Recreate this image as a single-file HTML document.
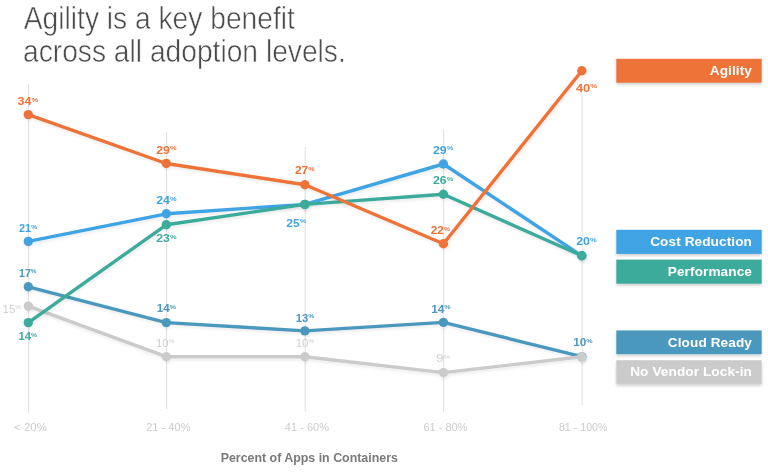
<!DOCTYPE html>
<html><head><meta charset="utf-8"><title>Agility is a key benefit</title>
<style>
html,body{margin:0;padding:0;background:#fff;}
body{width:768px;height:472px;overflow:hidden;position:relative;font-family:"Liberation Sans",sans-serif;}
svg{position:absolute;left:0;top:0;}
.title{font-family:"Liberation Sans",sans-serif;font-size:28.2px;fill:#4b4b4b;stroke:#fff;stroke-width:0.5px;stroke-linejoin:round;}
.lbl{font-family:"Liberation Sans",sans-serif;font-weight:bold;font-size:10.1px;}
.lbl .p{font-size:6.1px;}
.glbl{font-family:"Liberation Sans",sans-serif;font-size:10px;fill:#cfcfcf}
.glbl .p{font-size:5.6px;}
.ax{font-family:"Liberation Sans",sans-serif;font-size:10.1px;fill:#cccccc;}
.axt{font-family:"Liberation Sans",sans-serif;font-size:12.4px;font-weight:bold;fill:#7a7a7a;}
.leg{font-family:"Liberation Sans",sans-serif;font-size:13.6px;font-weight:bold;fill:#fff;letter-spacing:0.1px;}
</style></head><body>
<svg width="768" height="472" viewBox="0 0 768 472">
<defs>
<filter id="sh" x="-5%" y="-20%" width="110%" height="150%"><feGaussianBlur in="SourceAlpha" stdDeviation="1.8"/><feOffset dx="0" dy="2"/><feComponentTransfer><feFuncA type="linear" slope="0.18"/></feComponentTransfer><feMerge><feMergeNode/><feMergeNode in="SourceGraphic"/></feMerge></filter>
<filter id="lsh" x="-5%" y="-15%" width="110%" height="130%"><feGaussianBlur in="SourceAlpha" stdDeviation="1.5"/><feOffset dx="0.5" dy="2"/><feComponentTransfer><feFuncA type="linear" slope="0.08"/></feComponentTransfer><feMerge><feMergeNode/><feMergeNode in="SourceGraphic"/></feMerge></filter>
</defs>
<text class="title" transform="translate(23.8,28.7) scale(1,1.09)">Agility is a key benefit</text>
<text class="title" transform="translate(23.0,62.2) scale(1,1.09)">across all adoption levels.</text>

<line x1="28.6" y1="83.8" x2="28.6" y2="413.5" stroke="#dedede" stroke-width="1"/>
<line x1="166.6" y1="131.5" x2="166.6" y2="409" stroke="#dedede" stroke-width="1"/>
<line x1="305.2" y1="147" x2="305.2" y2="411.5" stroke="#dedede" stroke-width="1"/>
<line x1="443.7" y1="129.5" x2="443.7" y2="412" stroke="#dedede" stroke-width="1"/>
<line x1="582.1" y1="93" x2="582.1" y2="405" stroke="#dedede" stroke-width="1"/>
<g filter="url(#lsh)"><polyline points="28.3,286.8 166.3,322.6 304.9,330.9 443.4,322.4 581.8,356.6" fill="none" stroke="#4c98be" stroke-width="3.4" stroke-linejoin="round" stroke-linecap="round"/>
<circle cx="28.3" cy="286.8" r="4.7" fill="#4c98be"/>
<circle cx="166.3" cy="322.6" r="4.7" fill="#4c98be"/>
<circle cx="304.9" cy="330.9" r="4.7" fill="#4c98be"/>
<circle cx="443.4" cy="322.4" r="4.7" fill="#4c98be"/>
<circle cx="581.8" cy="356.6" r="4.7" fill="#4c98be"/>
</g>
<g filter="url(#lsh)"><polyline points="28.3,306.1 166.3,356.7 304.9,356.7 443.4,372.6 581.8,356.7" fill="none" stroke="#cbcbcb" stroke-width="3.4" stroke-linejoin="round" stroke-linecap="round"/>
<circle cx="28.3" cy="306.1" r="4.7" fill="#cbcbcb"/>
<circle cx="166.3" cy="356.7" r="4.7" fill="#cbcbcb"/>
<circle cx="304.9" cy="356.7" r="4.7" fill="#cbcbcb"/>
<circle cx="443.4" cy="372.6" r="4.7" fill="#cbcbcb"/>
<circle cx="581.8" cy="356.7" r="4.7" fill="#cbcbcb"/>
</g>
<g filter="url(#lsh)"><polyline points="28.3,241.4 166.3,213.8 304.9,204.4 443.4,164.0 581.8,255.8" fill="none" stroke="#3fa4e4" stroke-width="3.4" stroke-linejoin="round" stroke-linecap="round"/>
<circle cx="28.3" cy="241.4" r="4.7" fill="#3fa4e4"/>
<circle cx="166.3" cy="213.8" r="4.7" fill="#3fa4e4"/>
<circle cx="304.9" cy="204.4" r="4.7" fill="#3fa4e4"/>
<circle cx="443.4" cy="164.0" r="4.7" fill="#3fa4e4"/>
<circle cx="581.8" cy="255.8" r="4.7" fill="#3fa4e4"/>
</g>
<g filter="url(#lsh)"><polyline points="28.3,322.6 166.3,224.8 304.9,204.4 443.4,194.2 581.8,255.8" fill="none" stroke="#3cab9c" stroke-width="3.4" stroke-linejoin="round" stroke-linecap="round"/>
<circle cx="28.3" cy="322.6" r="4.7" fill="#3cab9c"/>
<circle cx="166.3" cy="224.8" r="4.7" fill="#3cab9c"/>
<circle cx="304.9" cy="204.4" r="4.7" fill="#3cab9c"/>
<circle cx="443.4" cy="194.2" r="4.7" fill="#3cab9c"/>
<circle cx="581.8" cy="255.8" r="4.7" fill="#3cab9c"/>
</g>
<g filter="url(#lsh)"><polyline points="28.3,114.6 166.3,163.5 304.9,184.8 443.4,243.8 581.8,70.7" fill="none" stroke="#ee7339" stroke-width="3.4" stroke-linejoin="round" stroke-linecap="round"/>
<circle cx="28.3" cy="114.6" r="4.7" fill="#ee7339"/>
<circle cx="166.3" cy="163.5" r="4.7" fill="#ee7339"/>
<circle cx="304.9" cy="184.8" r="4.7" fill="#ee7339"/>
<circle cx="443.4" cy="243.8" r="4.7" fill="#ee7339"/>
<circle cx="581.8" cy="70.7" r="4.7" fill="#ee7339"/>
</g>
<text class="lbl" x="17.6" y="105" textLength="20.7" lengthAdjust="spacingAndGlyphs" fill="#ee7339">34<tspan class="p" dy="-3.5">%</tspan></text>
<text class="lbl" x="156.2" y="153.7" textLength="20.3" lengthAdjust="spacingAndGlyphs" fill="#ee7339">29<tspan class="p" dy="-3.5">%</tspan></text>
<text class="lbl" x="294.9" y="174" textLength="19.8" lengthAdjust="spacingAndGlyphs" fill="#ee7339">27<tspan class="p" dy="-3.5">%</tspan></text>
<text class="lbl" x="430.7" y="234" textLength="19.4" lengthAdjust="spacingAndGlyphs" fill="#ee7339">22<tspan class="p" dy="-3.5">%</tspan></text>
<text class="lbl" x="575.9" y="91.7" textLength="21.4" lengthAdjust="spacingAndGlyphs" fill="#ee7339">40<tspan class="p" dy="-3.5">%</tspan></text>
<text class="lbl" x="19.0" y="232" textLength="18.1" lengthAdjust="spacingAndGlyphs" fill="#3fa4e4">21<tspan class="p" dy="-3.5">%</tspan></text>
<text class="lbl" x="156.2" y="204" textLength="20.3" lengthAdjust="spacingAndGlyphs" fill="#3fa4e4">24<tspan class="p" dy="-3.5">%</tspan></text>
<text class="lbl" x="286.3" y="226.6" textLength="19.8" lengthAdjust="spacingAndGlyphs" fill="#3fa4e4">25<tspan class="p" dy="-3.5">%</tspan></text>
<text class="lbl" x="433.0" y="153.8" textLength="20.3" lengthAdjust="spacingAndGlyphs" fill="#3fa4e4">29<tspan class="p" dy="-3.5">%</tspan></text>
<text class="lbl" x="576.2" y="245" textLength="20.4" lengthAdjust="spacingAndGlyphs" fill="#3fa4e4">20<tspan class="p" dy="-3.5">%</tspan></text>
<text class="lbl" x="18.4" y="340.1" textLength="18.7" lengthAdjust="spacingAndGlyphs" fill="#3cab9c">14<tspan class="p" dy="-3.5">%</tspan></text>
<text class="lbl" x="156.2" y="242.3" textLength="20.3" lengthAdjust="spacingAndGlyphs" fill="#3cab9c">23<tspan class="p" dy="-3.5">%</tspan></text>
<text class="lbl" x="433.0" y="184.2" textLength="20.3" lengthAdjust="spacingAndGlyphs" fill="#3cab9c">26<tspan class="p" dy="-3.5">%</tspan></text>
<text class="lbl" x="19.0" y="276.8" textLength="17.6" lengthAdjust="spacingAndGlyphs" fill="#4c98be">17<tspan class="p" dy="-3.5">%</tspan></text>
<text class="lbl" x="156.7" y="312.2" textLength="19.2" lengthAdjust="spacingAndGlyphs" fill="#4c98be">14<tspan class="p" dy="-3.5">%</tspan></text>
<text class="lbl" x="295.7" y="321.6" textLength="18.6" lengthAdjust="spacingAndGlyphs" fill="#4c98be">13<tspan class="p" dy="-3.5">%</tspan></text>
<text class="lbl" x="431.2" y="312.5" textLength="19.5" lengthAdjust="spacingAndGlyphs" fill="#4c98be">14<tspan class="p" dy="-3.5">%</tspan></text>
<text class="lbl" x="573.2" y="346.4" textLength="19.4" lengthAdjust="spacingAndGlyphs" fill="#4c98be">10<tspan class="p" dy="-3.5">%</tspan></text>
<text class="glbl" x="2.5" y="312.6" textLength="18.5" lengthAdjust="spacingAndGlyphs">15<tspan class="p" dy="-3.5">%</tspan></text>
<text class="glbl" x="155.9" y="346.7" textLength="18.4" lengthAdjust="spacingAndGlyphs">10<tspan class="p" dy="-3.5">%</tspan></text>
<text class="glbl" x="295.7" y="346.7" textLength="18.6" lengthAdjust="spacingAndGlyphs">10<tspan class="p" dy="-3.5">%</tspan></text>
<text class="glbl" x="436.0" y="362" textLength="14.3" lengthAdjust="spacingAndGlyphs">9<tspan class="p" dy="-3.5">%</tspan></text>
<text class="ax" x="14.1" y="431.3" textLength="32.8" lengthAdjust="spacingAndGlyphs">&lt; 20%</text>
<text class="ax" x="146.2" y="431.3" textLength="44.3" lengthAdjust="spacingAndGlyphs">21 - 40%</text>
<text class="ax" x="284.8" y="431.3" textLength="44.2" lengthAdjust="spacingAndGlyphs">41 - 60%</text>
<text class="ax" x="423.5" y="431.3" textLength="44.0" lengthAdjust="spacingAndGlyphs">61 - 80%</text>
<text class="ax" x="558.9" y="431.3" textLength="48.6" lengthAdjust="spacingAndGlyphs">81 - 100%</text>
<text class="axt" x="220.7" y="462">Percent of Apps in Containers</text>
<rect x="616.3" y="58.8" width="145.4" height="23.9" fill="#ee7339" filter="url(#sh)"/>
<text class="leg" x="752" y="75.4" text-anchor="end">Agility</text>
<rect x="616.3" y="229.8" width="145.4" height="24.1" fill="#3fa4e4" filter="url(#sh)"/>
<text class="leg" x="752" y="246.4" text-anchor="end">Cost Reduction</text>
<rect x="616.3" y="259.6" width="145.4" height="24.1" fill="#3cab9c" filter="url(#sh)"/>
<text class="leg" x="752" y="276.2" text-anchor="end">Performance</text>
<rect x="616.3" y="330.4" width="145.4" height="23.8" fill="#4c98be" filter="url(#sh)"/>
<text class="leg" x="752" y="347" text-anchor="end">Cloud Ready</text>
<rect x="616.3" y="360.2" width="145.4" height="23.7" fill="#cbcbcb" filter="url(#sh)"/>
<text class="leg" x="752" y="376.2" text-anchor="end">No Vendor Lock-in</text>
</svg></body></html>
